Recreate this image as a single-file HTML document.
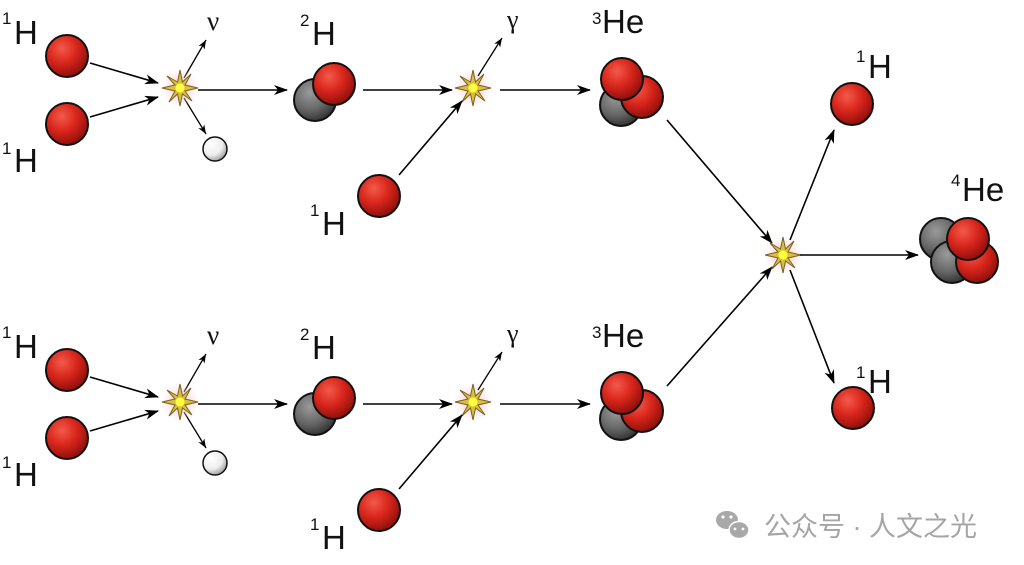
<!DOCTYPE html>
<html><head><meta charset="utf-8"><style>
html,body{margin:0;padding:0;background:#fff;width:1024px;height:565px;overflow:hidden}
svg{display:block}
text{font-family:"Liberation Sans",sans-serif;fill:#111}
text.g{font-family:"Liberation Serif",serif}
</style></head><body>
<svg width="1024" height="565" viewBox="0 0 1024 565" xmlns="http://www.w3.org/2000/svg">
<defs>
<radialGradient id="red" cx="0.38" cy="0.32" r="0.7">
<stop offset="0" stop-color="#f25a4a"/><stop offset="0.5" stop-color="#d9261c"/><stop offset="1" stop-color="#8e0f0a"/>
</radialGradient>
<radialGradient id="gray" cx="0.38" cy="0.32" r="0.7">
<stop offset="0" stop-color="#9a9a9a"/><stop offset="0.6" stop-color="#666"/><stop offset="1" stop-color="#333"/>
</radialGradient>
<radialGradient id="white" cx="0.35" cy="0.3" r="0.75">
<stop offset="0" stop-color="#fff"/><stop offset="0.6" stop-color="#eee"/><stop offset="1" stop-color="#999"/>
</radialGradient>
<radialGradient id="glow"><stop offset="0" stop-color="#f6b0a8" stop-opacity="0.9"/><stop offset="1" stop-color="#fde" stop-opacity="0"/></radialGradient>
<marker id="ah" markerWidth="14" markerHeight="10" refX="13" refY="5" orient="auto" markerUnits="userSpaceOnUse">
<path d="M0,0 L14,5 L0,10 L4,5 Z" fill="#000"/></marker>
<marker id="as" markerWidth="9" markerHeight="7" refX="9" refY="3.5" orient="auto" markerUnits="userSpaceOnUse">
<path d="M0,0 L9,3.5 L0,7 L2.5,3.5 Z" fill="#000"/></marker>
<g id="star">
<circle r="20" fill="url(#glow)"/>
<polygon points="0,-18 2.5,-6 11,-14 5,-3 18,0 5,3 12,13 2.5,6 0,18 -2.5,6 -11,14 -5,3 -18,0 -5,-3 -13,-12 -2.5,-6" fill="#d8c03a" stroke="#7a5f25" stroke-width="1"/>
<circle r="4.5" fill="#ffff40"/>
</g>
<g id="row">
<text x="2" y="24" font-size="17">1</text><text x="14" y="44" font-size="33">H</text>
<text x="2" y="154" font-size="17">1</text><text x="14" y="172" font-size="33">H</text>
<circle cx="67" cy="56" r="21" fill="url(#red)" stroke="#111" stroke-width="2"/>
<circle cx="67" cy="124" r="21" fill="url(#red)" stroke="#111" stroke-width="2"/>
<line x1="90" y1="63" x2="158" y2="83" stroke="#000" stroke-width="1.6" marker-end="url(#ah)"/>
<line x1="90" y1="117" x2="158" y2="97" stroke="#000" stroke-width="1.6" marker-end="url(#ah)"/>
<line x1="184" y1="78" x2="206" y2="40" stroke="#000" stroke-width="1.3" marker-end="url(#as)"/>
<line x1="184" y1="98" x2="206" y2="134" stroke="#000" stroke-width="1.3" marker-end="url(#as)"/>
<text class="g" x="207" y="30" font-size="27">ν</text>
<circle cx="215" cy="149" r="12" fill="url(#white)" stroke="#111" stroke-width="1.5"/>
<use href="#star" x="180" y="88"/>
<line x1="198" y1="90" x2="287" y2="90" stroke="#000" stroke-width="1.6" marker-end="url(#ah)"/>
<text x="300" y="26" font-size="17">2</text><text x="312" y="45" font-size="33">H</text>
<circle cx="315" cy="100" r="21" fill="url(#gray)" stroke="#111" stroke-width="2"/>
<circle cx="334" cy="84" r="21" fill="url(#red)" stroke="#111" stroke-width="2"/>
<line x1="363" y1="90" x2="452" y2="90" stroke="#000" stroke-width="1.6" marker-end="url(#ah)"/>
<use href="#star" x="473" y="88"/>
<line x1="478" y1="76" x2="502" y2="38" stroke="#000" stroke-width="1.3" marker-end="url(#as)"/>
<text class="g" x="507" y="28" font-size="26">γ</text>
<circle cx="379" cy="196" r="21" fill="url(#red)" stroke="#111" stroke-width="2"/>
<line x1="399" y1="175" x2="462" y2="101" stroke="#000" stroke-width="1.6" marker-end="url(#ah)"/>
<text x="310" y="216" font-size="17">1</text><text x="322" y="235" font-size="33">H</text>
<line x1="500" y1="90" x2="590" y2="90" stroke="#000" stroke-width="1.6" marker-end="url(#ah)"/>
<text x="592" y="24" font-size="17">3</text><text x="602" y="33" font-size="33">He</text>
<circle cx="621" cy="105" r="21" fill="url(#gray)" stroke="#111" stroke-width="2"/>
<circle cx="642" cy="97" r="21" fill="url(#red)" stroke="#111" stroke-width="2"/>
<circle cx="622" cy="79" r="21" fill="url(#red)" stroke="#111" stroke-width="2"/>
</g>
</defs>
<use href="#row"/>
<use href="#row" y="314"/>
<line x1="667" y1="120" x2="772" y2="243" stroke="#000" stroke-width="1.6" marker-end="url(#ah)"/>
<line x1="667" y1="386" x2="772" y2="267" stroke="#000" stroke-width="1.6" marker-end="url(#ah)"/>
<use href="#star" x="783" y="255"/>
<line x1="790" y1="240" x2="834" y2="130" stroke="#000" stroke-width="1.6" marker-end="url(#ah)"/>
<line x1="790" y1="270" x2="834" y2="383" stroke="#000" stroke-width="1.6" marker-end="url(#ah)"/>
<line x1="800" y1="255" x2="918" y2="255" stroke="#000" stroke-width="1.6" marker-end="url(#ah)"/>
<circle cx="852" cy="104" r="21" fill="url(#red)" stroke="#111" stroke-width="2"/>
<text x="856" y="62" font-size="17">1</text><text x="868" y="78" font-size="33">H</text>
<circle cx="853" cy="408" r="21" fill="url(#red)" stroke="#111" stroke-width="2"/>
<text x="856" y="378" font-size="17">1</text><text x="868" y="393" font-size="33">H</text>
<text x="951" y="186" font-size="17">4</text><text x="962" y="201" font-size="33">He</text>
<circle cx="941" cy="239" r="21" fill="url(#gray)" stroke="#111" stroke-width="2"/>
<circle cx="952" cy="262" r="21" fill="url(#gray)" stroke="#111" stroke-width="2"/>
<circle cx="977" cy="262" r="21" fill="url(#red)" stroke="#111" stroke-width="2"/>
<circle cx="968" cy="239" r="21" fill="url(#red)" stroke="#111" stroke-width="2"/>
<g fill="#a8a8a8">
<ellipse cx="727" cy="520" rx="11" ry="9"/>
<ellipse cx="739" cy="530" rx="10" ry="8.5" stroke="#fff" stroke-width="1.5"/>
<circle cx="723" cy="517" r="1.6" fill="#fff"/><circle cx="731" cy="517" r="1.6" fill="#fff"/>
<circle cx="735" cy="529" r="1.4" fill="#fff"/><circle cx="743" cy="529" r="1.4" fill="#fff"/>
</g>
<text x="764" y="536" font-size="27" style="fill:#a5a5a5;font-family:'Liberation Sans','Noto Sans CJK SC',sans-serif">公众号 · 人文之光</text>
</svg>
</body></html>
